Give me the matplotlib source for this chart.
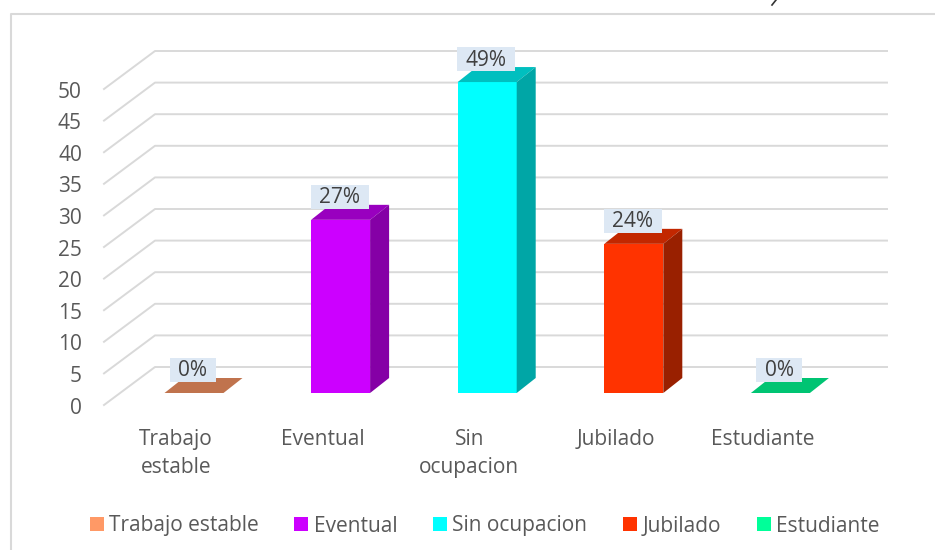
import matplotlib
matplotlib.use('Agg')
from matplotlib import pyplot as plt
from matplotlib.patches import Patch, Polygon, Rectangle

categories = ['Trabajo estable', 'Eventual', 'Sin ocupacion', 'Jubilado', 'Estudiante']
tick_names = ['Trabajo\nestable', 'Eventual', 'Sin\nocupacion', 'Jubilado', 'Estudiante']
values = [0, 27.4, 49.2, 23.6, 0]
labels = ['0%', '27%', '49%', '24%', '0%']
yticks = [0, 5, 10, 15, 20, 25, 30, 35, 40, 45, 50]

front_colors = ['#ff9966', '#cc00ff', '#00ffff', '#ff3300', '#00ff99']
top_colors = ['#c0734d', '#9900bf', '#00bfbf', '#c22700', '#00c473']
side_colors = ['#a66342', '#8500a6', '#00a6a6', '#992000', '#00a663']

W, H = 935, 550
PX_Y = 6.32     # pixels per unit
PX_X = 146.6    # pixels per category
X0, Y0 = 194, 393   # where category 0 / value 0 sit
DEPTH_X, DEPTH_Y = 19, 15

plt.rcParams['font.family'] = ['Open Sans', 'DejaVu Sans']
fig = plt.figure(figsize=(W / 100, H / 100), dpi=100)
ax = fig.add_axes([0, 0, 1, 1])
ax.set_xlim(-X0 / PX_X, (W - X0) / PX_X)
ax.set_ylim((Y0 - H) / PX_Y, Y0 / PX_Y)
ax.axis('off')
renderer = fig.canvas.get_renderer()


def dx(px):
    return px / PX_X


def dy(px):
    return px / PX_Y


# outer frame runs off the right and bottom of the picture
ax.plot([dx(11 - X0), dx(11 - X0), dx(W - X0)],
        [dy(Y0 - H), dy(Y0 - 14), dy(Y0 - 14)], color='#d9d9d9', lw=1.5, zorder=1)

# bit of the page text that got cropped in at the top
ax.plot([dx(772 - X0), dx(776 - X0)], [dy(Y0 - 5), dy(Y0)], color='#333333', lw=1.2)

# wall and floor gridlines
for t in yticks:
    xs = [dx(104 - X0), dx(155 - X0), dx(887 - X0)]
    ys = [t + dy(Y0 - 405), t + dy(Y0 - 367), t + dy(Y0 - 367)]
    ax.plot(xs, ys, color='#d9d9d9', lw=1.4, zorder=1)
    ax.text(dx(82 - X0), t + dy(Y0 - 408), str(t), ha='right', va='center',
            fontsize=15, color='#595959')

# bars
bar_w = 59 / PX_X
for i, v in enumerate(values):
    l, r = i - bar_w / 2, i + bar_w / 2
    ax.bar(i, v, width=bar_w, color=front_colors[i], zorder=3)
    ax.add_patch(Polygon([(l, v), (r, v), (r + dx(DEPTH_X), v + dy(DEPTH_Y)),
                          (l + dx(DEPTH_X), v + dy(DEPTH_Y))],
                         facecolor=top_colors[i], edgecolor='none', zorder=3))
    if v > 0:
        ax.add_patch(Polygon([(r, 0), (r + dx(DEPTH_X), dy(DEPTH_Y)),
                              (r + dx(DEPTH_X), v + dy(DEPTH_Y)), (r, v)],
                             facecolor=side_colors[i], edgecolor='none', zorder=3))
    # label box sized from the text, same height for all
    t = ax.text(i - dx(1), v + dy(22), labels[i], ha='center', va='center', fontsize=15,
                color='#404040', zorder=5)
    box_w = t.get_window_extent(renderer).width + 17
    ax.add_patch(Rectangle((i - dx(1 + box_w / 2), v + dy(11)), dx(box_w), dy(24),
                           facecolor='#dde8f4', edgecolor='none', zorder=4))
    ax.text(i - dx(18), dy(Y0 - 429), tick_names[i], ha='center', va='top', fontsize=15,
            color='#595959', linespacing=1.45)

handles = [Patch(facecolor=c, label=n) for c, n in zip(front_colors, categories)]
ax.legend(handles=handles, ncol=5, frameon=False, fontsize=15, labelcolor='#595959',
          loc='center', bbox_to_anchor=(484.5 / W, 1 - 526 / H),
          handlelength=0.67, handleheight=0.67, handletextpad=0.25, columnspacing=1.72)

fig.savefig('out.png', dpi=100)
